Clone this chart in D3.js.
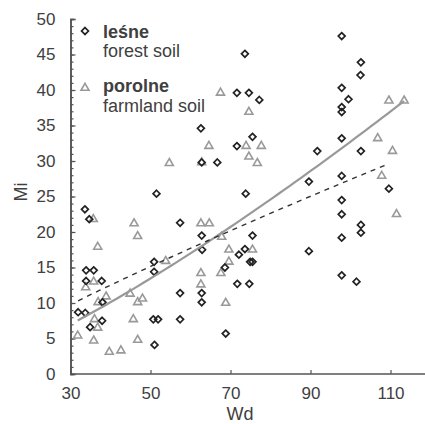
<!DOCTYPE html>
<html>
<head>
<meta charset="utf-8">
<script src="https://cdn.jsdelivr.net/npm/d3@7"></script>
<style>
  body { margin: 0; background: #fff; }
  text { font-family: "Liberation Sans", Arial, sans-serif; fill: #404040; }
</style>
</head>
<body>
<svg></svg>
<script>
// forest soil (lesne) - Wd / Mi
var forestWd = [33.6, 34.7, 51.5, 33.9, 35.8, 33.9, 37.8, 31.9, 33.7, 34.9, 37.9, 38.0,
  50.9, 50.9, 50.7, 51.9, 51.0, 57.4, 57.4, 57.4, 73.6, 71.6, 74.6, 77.2, 62.6, 71.6,
  75.5, 62.8, 66.7, 73.8, 62.8, 75.5, 62.9, 73.6, 72.1, 74.9, 75.5, 68.6, 71.7, 74.7,
  62.8, 62.8, 68.8, 97.8, 102.6, 102.5, 97.8, 99.5, 97.8, 97.8, 97.8, 91.7, 102.6,
  97.8, 89.6, 109.6, 97.8, 97.8, 102.6, 102.6, 97.8, 89.6, 97.8, 101.5];
var forestMi = [23.2, 21.8, 25.4, 14.6, 14.6, 13.1, 13.1, 8.7, 8.6, 6.6, 7.5, 10.1,
  15.8, 14.4, 7.7, 7.7, 4.1, 21.3, 11.4, 7.7, 45.1, 39.6, 39.6, 38.6, 34.6, 32.1,
  33.4, 29.8, 29.8, 25.4, 19.5, 19.5, 17.5, 17.6, 16.8, 15.8, 15.8, 15.0, 12.7, 12.7,
  11.4, 10.1, 5.7, 47.6, 43.9, 42.1, 40.3, 38.7, 37.6, 36.9, 33.2, 31.4, 31.4,
  27.9, 27.1, 26.1, 24.5, 22.5, 21.0, 19.9, 19.2, 17.3, 13.9, 13.0];

// farmland soil (porolne)
var farmWd = [35.7, 45.9, 46.8, 36.8, 33.8, 35.8, 38.9, 36.9, 44.9, 48.0, 46.8, 36.0,
  36.8, 45.7, 31.8, 35.8, 46.8, 39.7, 42.6, 53.8, 54.7, 67.5, 74.6, 64.6, 73.9, 77.7,
  74.6, 76.7, 62.8, 62.6, 64.7, 67.8, 69.6, 75.5, 69.6, 67.6, 62.6, 62.6, 68.8,
  109.6, 113.4, 106.8, 110.5, 107.8, 111.5];
var farmMi = [21.8, 21.2, 19.4, 17.9, 12.2, 13.0, 10.9, 10.1, 11.3, 10.6, 10.1, 7.7,
  6.5, 7.7, 5.4, 4.7, 4.8, 3.1, 3.3, 15.9, 29.7, 39.6, 36.9, 32.1, 32.1, 32.1,
  30.6, 29.7, 29.8, 21.2, 21.2, 19.3, 17.5, 17.5, 15.8, 14.2, 14.2, 12.6, 10.0,
  38.5, 38.5, 33.2, 31.4, 27.9, 22.5];

// power trend lines Mi = a * Wd^b, coefficients
var forestTrend = [0.534, 0.855],
    farmTrend = [0.0893, 1.282];

var xTicks = [30, 50, 70, 90, 110];
var yTicks = [0, 5, 10, 15, 20, 25, 30, 35, 40, 45, 50];

var width = 425, height = 424;
var svg = d3.select("svg").attr("width", width).attr("height", height);

var x = d3.scaleLinear().domain([30, 118]).range([70.5, 422.5]),
    y = d3.scaleLinear().domain([0, 50]).range([374, 19]);

function pairs(xs, ys) {
  return xs.map(function(v, i) { return {wd: v, mi: ys[i]}; });
}
var forest = pairs(forestWd, forestMi),
    farm = pairs(farmWd, farmMi);

// trend curve over the range of the series
function trend(data, coef) {
  var ext = d3.extent(data, function(d) { return d.wd; });
  return d3.range(0, 61).map(function(i) {
    var v = ext[0] + (ext[1] - ext[0]) * i / 60;
    return {wd: v, mi: coef[0] * Math.pow(v, coef[1])};
  });
}

var line = d3.line()
  .x(function(d) { return x(d.wd); })
  .y(function(d) { return y(d.mi); });

// axes
var yAxis = svg.append("g")
  .attr("transform", "translate(" + x(30) + ",0)")
  .call(d3.axisLeft(y).tickValues(yTicks).tickSize(-5).tickPadding(15));
yAxis.append("g")
  .call(d3.axisLeft(y).ticks(50).tickSize(-3).tickFormat(""));
var xAxis = svg.append("g")
  .attr("transform", "translate(0," + y(0) + ")")
  .call(d3.axisBottom(x).tickValues(xTicks).tickSize(-4).tickPadding(13));
xAxis.select(".domain").attr("d", "M" + x(30) + ",0H425");

svg.selectAll(".domain, .tick line").attr("stroke", "#555").attr("stroke-width", 1.2);
svg.selectAll(".domain").attr("stroke-width", 1.6);
svg.selectAll(".tick text")
  .style("font-size", "17px")
  .attr("fill", "#404040");

// axis titles
svg.append("text")
  .attr("x", 240).attr("y", 420)
  .attr("text-anchor", "middle")
  .style("font-size", "18px")
  .text("Wd");
svg.append("text")
  .attr("transform", "translate(27,192) rotate(-90)")
  .attr("text-anchor", "middle")
  .style("font-size", "18px")
  .text("Mi");

var diamond = d3.symbol().type(d3.symbolDiamond2).size(30),
    triangle = d3.symbol().type(d3.symbolTriangle2).size(46);

// farmland points
svg.append("g").selectAll("path")
  .data(farm)
  .enter()
    .append("path")
    .attr("d", triangle)
    .attr("transform", function(d) { return "translate(" + x(d.wd) + "," + y(d.mi) + ")"; })
    .attr("fill", "none")
    .attr("stroke", "#999")
    .attr("stroke-width", 1.6);

// forest points
svg.append("g").selectAll("path")
  .data(forest)
  .enter()
    .append("path")
    .attr("d", diamond)
    .attr("transform", function(d) { return "translate(" + x(d.wd) + "," + y(d.mi) + ")"; })
    .attr("fill", "none")
    .attr("stroke", "#222")
    .attr("stroke-width", 1.7);

// trend lines
svg.append("path")
  .datum(trend(farm, farmTrend))
  .attr("d", line)
  .attr("fill", "none")
  .attr("stroke", "#999")
  .attr("stroke-width", 2.2);
svg.append("path")
  .datum(trend(forest, forestTrend))
  .attr("d", line)
  .attr("fill", "none")
  .attr("stroke", "#333")
  .attr("stroke-width", 1.4)
  .attr("stroke-dasharray", "5,5");

// legend
svg.append("path").attr("d", diamond)
  .attr("transform", "translate(85,31)")
  .attr("fill", "none").attr("stroke", "#222").attr("stroke-width", 1.7);
svg.append("text").attr("x", 103).attr("y", 38)
  .style("font-size", "18px").style("font-weight", "bold").text("leśne");
svg.append("text").attr("x", 103).attr("y", 57)
  .style("font-size", "18px").text("forest soil");
svg.append("path").attr("d", triangle)
  .attr("transform", "translate(85,88)")
  .attr("fill", "none").attr("stroke", "#999").attr("stroke-width", 1.6);
svg.append("text").attr("x", 103).attr("y", 92)
  .style("font-size", "18px").style("font-weight", "bold").text("porolne");
svg.append("text").attr("x", 103).attr("y", 112)
  .style("font-size", "18px").text("farmland soil");
</script>
</body>
</html>
